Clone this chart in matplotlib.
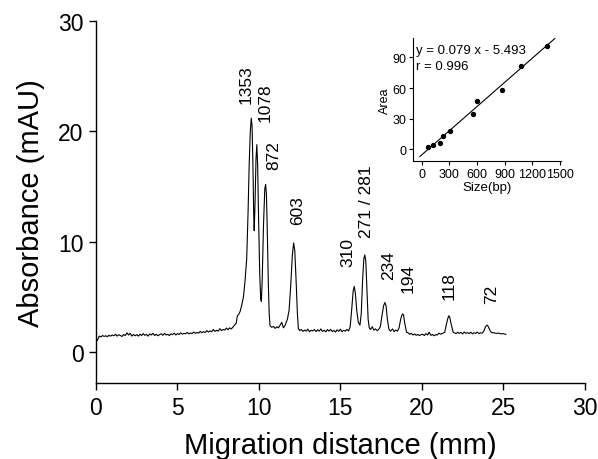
import matplotlib
matplotlib.use("Agg")
import matplotlib.pyplot as plt

plt.rcParams['font.family'] = ['Liberation Sans', 'DejaVu Sans']

# Electropherogram trace (migration distance mm, absorbance mAU)
trace_x = [0.00, 0.08, 0.20, 0.30, 0.40, 0.50, 0.60, 0.70, 0.80, 0.90,
           1.00, 1.10, 1.20, 1.30, 1.40, 1.50, 1.60, 1.70, 1.80, 1.90,
           2.00, 2.10, 2.20, 2.30, 2.40, 2.50, 2.60, 2.70, 2.80, 2.90,
           3.00, 3.10, 3.20, 3.30, 3.40, 3.50, 3.60, 3.70, 3.80, 3.90,
           4.00, 4.10, 4.20, 4.30, 4.40, 4.50, 4.60, 4.70, 4.80, 4.90,
           5.00, 5.10, 5.20, 5.30, 5.40, 5.50, 5.60, 5.70, 5.80, 5.90,
           6.00, 6.10, 6.20, 6.30, 6.40, 6.50, 6.60, 6.70, 6.80, 6.90,
           7.00, 7.10, 7.20, 7.30, 7.40, 7.50, 7.60, 7.70, 7.80, 7.90,
           8.00, 8.10, 8.20, 8.30, 8.40, 8.50, 8.60, 8.68, 8.75, 8.85,
           8.95, 9.05, 9.15, 9.25, 9.33, 9.40, 9.47, 9.53, 9.58, 9.63,
           9.68, 9.71, 9.76, 9.82, 9.87, 9.92, 9.98, 10.05, 10.11, 10.15,
           10.20, 10.28, 10.36, 10.41, 10.46, 10.52, 10.58, 10.63, 10.68, 10.78,
           10.90, 11.00, 11.10, 11.20, 11.30, 11.40, 11.50, 11.60, 11.75, 11.85,
           11.95, 12.05, 12.13, 12.20, 12.28, 12.36, 12.42, 12.50, 12.60, 12.70,
           12.80, 12.90, 13.00, 13.10, 13.20, 13.30, 13.40, 13.50, 13.60, 13.70,
           13.80, 13.90, 14.00, 14.10, 14.20, 14.30, 14.40, 14.50, 14.60, 14.70,
           14.80, 14.90, 15.00, 15.10, 15.20, 15.30, 15.40, 15.50, 15.60, 15.70,
           15.78, 15.85, 15.92, 16.00, 16.10, 16.20, 16.28, 16.36, 16.44, 16.50,
           16.56, 16.63, 16.70, 16.77, 16.85, 16.95, 17.05, 17.15, 17.25, 17.35,
           17.45, 17.55, 17.65, 17.73, 17.80, 17.88, 17.98, 18.08, 18.20, 18.30,
           18.40, 18.50, 18.60, 18.70, 18.80, 18.87, 18.95, 19.06, 19.15, 19.25,
           19.35, 19.45, 19.55, 19.65, 19.75, 19.85, 19.95, 20.05, 20.15, 20.25,
           20.35, 20.45, 20.55, 20.65, 20.75, 20.85, 20.95, 21.05, 21.15, 21.25,
           21.40, 21.50, 21.60, 21.66, 21.72, 21.80, 21.92, 22.00, 22.10, 22.20,
           22.30, 22.40, 22.50, 22.60, 22.70, 22.80, 22.90, 23.00, 23.10, 23.20,
           23.30, 23.40, 23.50, 23.60, 23.70, 23.80, 23.90, 24.00, 24.08, 24.18,
           24.27, 24.40, 24.55, 24.70, 24.85, 25.00, 25.15]
trace_y = [0.95, 1.05, 1.45, 1.38, 1.50, 1.42, 1.48, 1.40, 1.52, 1.45,
           1.55, 1.48, 1.62, 1.45, 1.58, 1.50, 1.42, 1.60, 1.50, 1.75,
           1.55, 1.70, 1.45, 1.60, 1.48, 1.58, 1.45, 1.62, 1.50, 1.68,
           1.52, 1.60, 1.45, 1.65, 1.55, 1.70, 1.50, 1.62, 1.48, 1.58,
           1.66, 1.52, 1.70, 1.55, 1.62, 1.50, 1.65, 1.58, 1.72, 1.55,
           1.68, 1.60, 1.75, 1.62, 1.70, 1.66, 1.78, 1.65, 1.74, 1.68,
           1.82, 1.70, 1.78, 1.72, 1.88, 1.75, 1.85, 1.78, 1.95, 1.82,
           1.92, 1.85, 2.05, 1.88, 1.98, 1.90, 2.12, 1.95, 2.05, 2.00,
           2.18, 2.02, 2.20, 2.10, 2.25, 2.45, 2.60, 3.30, 3.40, 3.70,
           4.30, 5.00, 6.50, 8.50, 12.50, 16.90, 20.00, 21.20, 20.50, 17.00,
           12.50, 11.00, 13.50, 17.50, 18.80, 17.00, 12.00, 7.00, 4.80, 4.60,
           6.50, 11.50, 14.80, 15.20, 14.30, 10.50, 6.00, 3.50, 2.40, 2.25,
           2.32, 2.15, 2.30, 2.20, 2.45, 2.70, 2.20, 2.40, 3.00, 3.80,
           6.00, 8.80, 9.90, 9.20, 6.50, 3.50, 2.15, 1.95, 2.05, 1.88,
           2.00, 1.90, 2.08, 1.85, 1.98, 1.92, 2.05, 1.86, 2.02, 1.90,
           2.10, 1.88, 1.98, 1.84, 2.04, 1.90, 2.06, 1.86, 1.96, 1.82,
           2.02, 1.88, 2.08, 1.85, 1.98, 1.90, 2.05, 1.92, 2.30, 4.00,
           5.50, 5.95, 5.30, 3.80, 2.70, 2.45, 3.50, 6.50, 8.50, 8.80,
           8.20, 5.50, 3.00, 2.20, 2.05, 2.30, 2.00, 2.10, 1.95, 2.05,
           2.30, 3.30, 4.20, 4.50, 4.20, 3.00, 2.05, 1.90, 2.10, 1.85,
           2.00, 1.90, 2.20, 3.00, 3.45, 3.40, 2.60, 1.80, 1.75, 1.62,
           1.70, 1.55, 1.65, 1.52, 1.60, 1.50, 1.58, 1.62, 1.50, 1.68,
           1.55, 1.80, 1.52, 1.60, 1.48, 1.58, 1.55, 1.72, 1.62, 1.68,
           1.80, 2.50, 3.10, 3.30, 3.10, 2.50, 1.80, 1.75, 1.68, 1.80,
           1.70, 1.78, 1.65, 1.82, 1.70, 1.76, 1.68, 1.80, 1.66, 1.75,
           1.70, 1.82, 1.68, 1.75, 1.72, 1.90, 2.30, 2.45, 2.30, 1.95,
           1.78, 1.75, 1.70, 1.72, 1.65, 1.68, 1.60]

# Peak labels (fragment sizes, bp) and label anchor positions
peak_labels = ['1353', '1078', '872', '603', '310', '271 / 281', '234', '194', '118', '72']
label_x = [9.24, 10.37, 10.92, 12.37, 15.48, 16.60, 17.94, 19.17, 21.68, 24.27]
label_y = [22.6, 20.9, 16.6, 11.6, 7.8, 10.4, 6.6, 5.46, 4.8, 4.43]

# Inset calibration data
inset_size = [72, 118, 194, 234, 310, 552, 603, 872, 1078, 1353]
inset_area = [2.0, 4.2, 6.2, 13.0, 17.9, 34.2, 47.3, 58.0, 81.2, 100.8]
fit_slope = 0.079
fit_intercept = -5.493
fit_range = [-20, 1443]

fig = plt.figure(figsize=(5.98, 4.60), dpi=100)
ax = fig.add_axes([0.1605, 0.1652, 0.8175, 0.7868])
ax.plot(trace_x, trace_y, color='black', lw=0.8)
for lab, lx, ly in zip(peak_labels, label_x, label_y):
    ax.text(lx, ly, lab, rotation=90, ha='center', va='bottom', fontsize=12.5)

ax.set_xlim(0, 30)
ax.set_ylim(-2.8, 30)
ax.set_xticks([0, 5, 10, 15, 20, 25, 30])
ax.set_yticks([0, 10, 20, 30])
for s in ['top', 'right']:
    ax.spines[s].set_visible(False)
ax.spines['left'].set_linewidth(1.0)
ax.spines['bottom'].set_linewidth(1.0)
ax.tick_params(direction='out', length=5, width=1.0, labelsize=16.5, pad=4)
ax.set_xlabel('Migration distance (mm)', fontsize=21, labelpad=9)
ax.set_ylabel('Absorbance (mAU)', fontsize=21, labelpad=9)

# Inset
ins = fig.add_axes([0.6906, 0.6478, 0.2475, 0.2674])
ins.scatter(inset_size, inset_area, s=8, color='black', zorder=3)
fx = fit_range
fy = [fit_slope * v + fit_intercept for v in fx]
ins.plot(fx, fy, color='black', lw=0.8)
ins.set_xlim(-95, 1510)
ins.set_ylim(-11.5, 109)
ins.set_xticks([0, 300, 600, 900, 1200, 1500])
ins.set_yticks([0, 30, 60, 90])
for s in ['top', 'right']:
    ins.spines[s].set_visible(False)
ins.tick_params(direction='out', length=3, width=0.8, labelsize=9, pad=2)
ins.set_xlabel('Size(bp)', fontsize=9.5, labelpad=1)
ins.set_ylabel('Area', fontsize=9, labelpad=1)
ins.text(-60, 103, 'y = 0.079 x - 5.493', fontsize=9.5, va='top', ha='left')
ins.text(-60, 87, 'r = 0.996', fontsize=9.5, va='top', ha='left')

fig.savefig('out.png', dpi=100)
